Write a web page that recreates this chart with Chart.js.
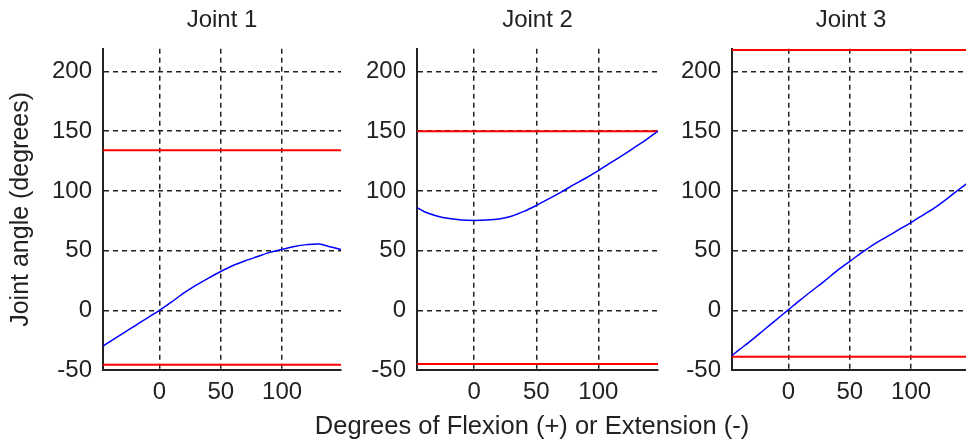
<!DOCTYPE html>
<html>
<head>
<meta charset="utf-8">
<script src="https://cdn.jsdelivr.net/npm/chart.js@4"></script>
<style>
  html, body { margin: 0; padding: 0; background: #fff; overflow: hidden; }
  #wrap { position: relative; width: 966px; height: 443px; overflow: hidden; }
  #wrap canvas { position: absolute; left: 0; top: 0; }
  #xlabel {
    position: absolute; left: 0; top: 410px; width: 1064px;
    text-align: center; white-space: nowrap;
    font: 25.5px/30px "Liberation Sans", Arial, Helvetica, sans-serif;
    color: #222;
  }
</style>
</head>
<body>
<div id="wrap">
  <canvas id="joint1" width="980" height="443"></canvas>
  <canvas id="joint2" width="980" height="443"></canvas>
  <canvas id="joint3" width="980" height="443"></canvas>
  <div id="xlabel">Degrees of Flexion (+) or Extension (-)</div>
</div>
<script>
// axis ranges and ticks (same for all three joints)
const xMin = -46, xMax = 148;
const yMin = -50, yMax = 219;
const xTicks = [0, 50, 100];
const yTicks = [-50, 0, 50, 100, 150, 200];

// flexion / extension samples
const flexion     = [-46, -40, -30, -20, -10, 0, 10, 20, 30, 40, 50, 60, 70, 80, 90, 100, 110, 120, 130, 140, 148];
const joint1Angle = [-30, -26, -19.5, -13, -6.5, 0, 7, 14.5, 21, 27, 32.5, 37.5, 41.5, 45, 48.5, 51, 53.5, 55, 55.5, 53, 51];
const joint2Angle = [86, 82.5, 79, 76.8, 75.6, 75.3, 75.6, 76.5, 78.8, 82.8, 87.8, 93.3, 99, 105, 110.8, 117, 123.6, 130.2, 137, 144, 150];
const joint3Angle = [-38, -33, -25, -16.5, -8, 0.5, 9, 17, 25, 33.5, 41, 48.5, 55.5, 61.5, 67.5, 73.5, 80, 86.5, 94, 102, 108];

const jointTitles = ['Joint 1', 'Joint 2', 'Joint 3'];
const upperLimit  = [134, 150, 218];
const lowerLimit  = [-45.5, -45, -39];

const jointAngles = [joint1Angle, joint2Angle, joint3Angle];

// where each plot box sits on the page
const plotLeft  = [103, 417, 732];
const plotRight = [341, 658, 970];
const canvasW = 980;
const textColor = '#222';
const fontFamily = '"Liberation Sans", Arial, Helvetica, sans-serif';

function makePanel(i) {
    const ctx = document.getElementById('joint' + (i + 1));
    const yAxisWidth = i === 0 ? plotLeft[0] : 60;

    new Chart(ctx, {
        type: 'line',
        data: {
            datasets: [
                {
                    label: 'angle',
                    data: flexion.map((x, k) => ({ x: x, y: jointAngles[i][k] })),
                    borderColor: '#0000ff',
                    borderWidth: 1.5,
                    pointRadius: 0,
                    tension: 0.3
                },
                {
                    label: 'upper',
                    data: [{ x: xMin, y: upperLimit[i] }, { x: xMax, y: upperLimit[i] }],
                    borderColor: '#ff0000',
                    borderWidth: 2,
                    pointRadius: 0
                },
                {
                    label: 'lower',
                    data: [{ x: xMin, y: lowerLimit[i] }, { x: xMax, y: lowerLimit[i] }],
                    borderColor: '#ff0000',
                    borderWidth: 2,
                    pointRadius: 0
                }
            ]
        },
        options: {
            responsive: false,
            animation: false,
            layout: {
                padding: { left: plotLeft[i] - yAxisWidth, right: canvasW - plotRight[i], top: 0, bottom: 0 }
            },
            plugins: {
                legend: { display: false },
                tooltip: { enabled: false },
                title: {
                    display: true,
                    text: jointTitles[i],
                    fullSize: false,
                    color: textColor,
                    font: { family: fontFamily, size: 24, weight: 'normal' },
                    padding: { top: 6, bottom: 14 }
                }
            },
            scales: {
                x: {
                    type: 'linear',
                    min: xMin,
                    max: xMax,
                    afterBuildTicks: s => { s.ticks = xTicks.map(v => ({ value: v })); },
                    afterFit: s => { s.height = 73; },
                    ticks: { color: textColor, font: { family: fontFamily, size: 24 }, padding: 8, maxRotation: 0 },
                    grid: { color: '#222', lineWidth: 1.5, drawTicks: false },
                    border: { display: true, color: '#222', width: 2, dash: [5, 4] }
                },
                y: {
                    type: 'linear',
                    min: yMin,
                    max: yMax,
                    afterBuildTicks: s => { s.ticks = yTicks.map(v => ({ value: v })); },
                    afterFit: s => { s.width = yAxisWidth; },
                    ticks: { color: textColor, font: { family: fontFamily, size: 24 }, padding: 11 },
                    grid: { color: '#222', lineWidth: 1.5, drawTicks: false },
                    border: { display: true, color: '#222', width: 2, dash: [5, 4] },
                    title: {
                        display: i === 0,
                        text: 'Joint angle (degrees)',
                        color: textColor,
                        font: { family: fontFamily, size: 25 },
                        padding: { top: 6, bottom: 0 }
                    }
                }
            }
        }
    });
}

jointTitles.forEach((t, i) => makePanel(i));
</script>
</body>
</html>
